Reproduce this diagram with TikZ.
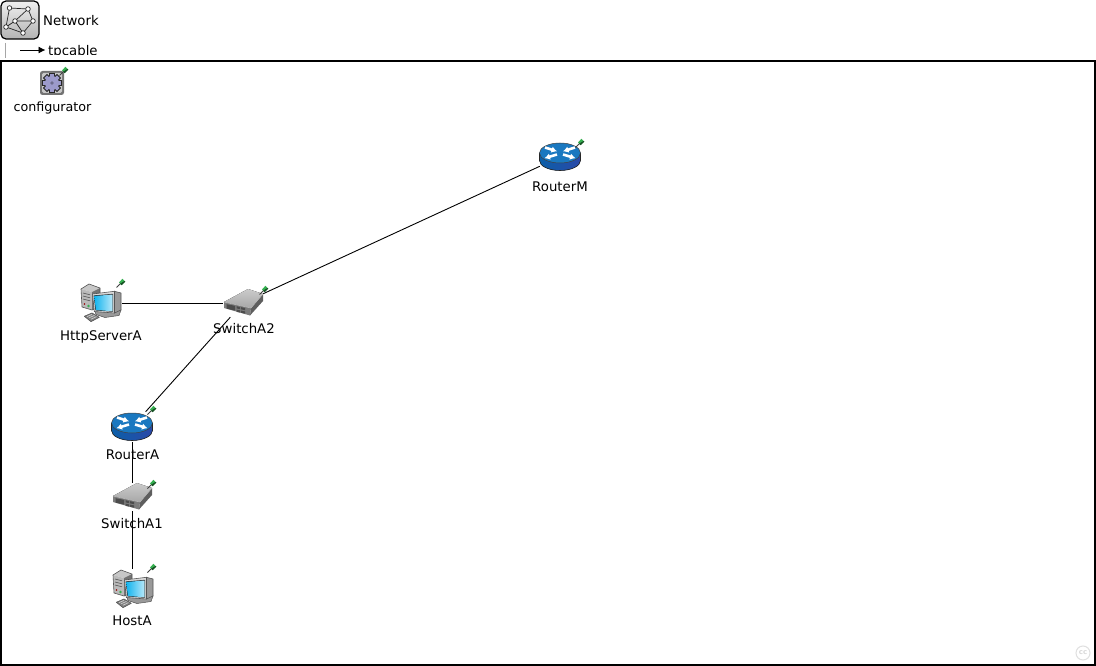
\documentclass[tikz,border=0pt]{standalone}
\usepackage{fontspec}
\setmainfont{DejaVu Sans}
\usetikzlibrary{arrows.meta}
\definecolor{rtop}{HTML}{1A78C0}
\definecolor{rbodyA}{HTML}{0B5FA8}
\definecolor{rbodyB}{HTML}{2A48A8}
\definecolor{swtop}{HTML}{A8A8A8}
\definecolor{swfront}{HTML}{7C7C7C}
\definecolor{swdark}{HTML}{4C4C4C}
\definecolor{pcgrey}{HTML}{BABABA}
\definecolor{pcedge}{HTML}{555555}
\definecolor{screen}{HTML}{12B4EE}
\definecolor{pingreen}{HTML}{35B050}
\definecolor{gearfill}{HTML}{9C9ACB}
\tikzset{
  x=1pt,y=-1pt,
  boxspot/.style={shape=rectangle,inner sep=0pt,minimum width=#1},
  routerspot/.style={boxspot=40pt,minimum height=30pt},
  switchspot/.style={boxspot=40pt,minimum height=28pt},
  pcspot/.style={boxspot=44pt,minimum height=40pt},
  cfgspot/.style={boxspot=26pt,minimum height=26pt},
  lbl/.style={font=\fontsize{13.3pt}{15pt}\selectfont,inner sep=0pt,anchor=base,text=black},
  lnk/.style={draw=black,line width=0.9pt},
  pinicon/.pic={
    \draw[line width=0.9pt,black!75] (-4.5,4.5) -- (0,0);
    \fill[pingreen] (-2,-0.6) -- (1.4,-4.2) -- (4.2,-1.4) -- (0.6,2) -- cycle;
    \fill[pingreen!45!black] (-1,0.8) -- (0.6,2.2) -- (4.3,-1.3) -- (3.5,-2) -- cycle;
  },
  routericon/.pic={
    \fill[left color=rbodyA,right color=rbodyB] (-20.5,-4) -- (-20.5,3.5)
      arc[start angle=180,end angle=360,x radius=20.5pt,y radius=10pt] -- (20.5,-4) -- cycle;
    \fill[rtop] (0,-4) ellipse[x radius=20.5pt,y radius=10pt];
    \draw[black!85,line width=0.6pt] (-20.5,-4) -- (-20.5,3.5) arc[start angle=180,end angle=360,x radius=20.5pt,y radius=10pt] -- (20.5,-4);
    \draw[black!75,line width=0.5pt] (0,-4) ellipse[x radius=20.5pt,y radius=10pt];
    \foreach \sx in {1,-1}{
      \draw[white,line width=2.6pt,-{Latex[length=5.5pt,width=6.5pt]}] (\sx*15,-9.5) -- (\sx*3,-5.7);
      \draw[white,line width=2.6pt,-{Latex[length=5.5pt,width=6.5pt]}] (\sx*3,-2.5) -- (\sx*15.5,1.2);
    }
  },
  switchicon/.pic={
    \fill[top color=swtop!60!white,bottom color=swtop] (-19,-1) -- (5,-14) -- (20,-9) -- (8,5) -- cycle;
    \fill[swfront] (-19,-1) -- (8,5) -- (7,12.5) -- (-19,5) -- cycle;
    \fill[swdark!90!white] (8,5) -- (20,-9) -- (20,-2) -- (7,12.5) -- cycle;
    \draw[white!75!black,line width=0.5pt] (-19,-1) -- (8,5) -- (20,-9);
    \fill[swdark] (-16.5,1.2) -- (-8,2.8) -- (-8,7.6) -- (-16.5,5.6) -- cycle;
    \fill[swdark] (-6.5,3.2) -- (-2.8,4) -- (-2.8,6.2) -- (-6.5,5.4) -- cycle;
    \fill[swdark] (-1.8,4.2) -- (2,5) -- (2,7.2) -- (-1.8,6.4) -- cycle;
    \fill[swdark] (-6.5,6.6) -- (-2.8,7.4) -- (-2.8,9.6) -- (-6.5,8.8) -- cycle;
    \fill[swdark] (-1.8,7.6) -- (2,8.4) -- (2,10.6) -- (-1.8,9.8) -- cycle;
  },
  computericon/.pic={
    % tower
    \fill[black!22] (-19,-14) -- (-11,-19) -- (0,-15) -- (-8,-11) -- cycle;
    \fill[pcgrey] (-19,-14) -- (-8,-11) -- (-8,7) -- (-18,4) -- cycle;
    \fill[black!55] (-8,-11) -- (0,-15) -- (0,4) -- (-8,7) -- cycle;
    \draw[pcedge,line width=0.6pt,line join=round] (-19,-14) -- (-11,-19) -- (0,-15) -- (0,4) -- (-8,7) -- (-18,4) -- cycle;
    \draw[pcedge,line width=0.6pt] (-17,-10) -- (-10,-8.2) (-17,-7) -- (-10,-5.2) (-17,-4) -- (-10,-2.2);
    \fill[pingreen] (-11.5,3) circle[radius=1.3pt];
    \fill[red!60!black] (-15.5,1) circle[radius=0.9pt];
    % stand
    \fill[black!40,draw=pcedge,line width=0.5pt] (-5,8.5) -- (8,9) -- (21,7) -- (19,12.5) -- (5,14.5) -- (-4,11.5) -- cycle;
    % monitor
    \fill[black!40,draw=pcedge,line width=0.6pt] (14.5,-11.7) -- (21,-10) -- (21,7) -- (14.5,10) -- cycle;
    \fill[black!15,draw=pcedge,line width=0.6pt] (-7.5,-9) -- (14.5,-11.7) -- (14.5,10) -- (-5.7,8.5) -- cycle;
    \fill[black!75] (-6.4,-7.6) -- (13.2,-9.2) -- (13.2,8.8) -- (-4.6,7.4) -- cycle;
    \fill[left color=screen,right color=screen!30!white] (-5.8,-7) -- (12.7,-8.5) -- (12.7,8.3) -- (-4.1,7) -- cycle;
    % keyboard
    \fill[black!50,draw=pcedge,line width=0.6pt,line join=round] (-15.7,13.3) -- (-8,10) -- (-0.7,14.3) -- (-9,18.6) -- cycle;
    \draw[black!20,line width=0.7pt] (-13,13.6) -- (-8,11.4) (-11,14.8) -- (-5.5,12.4) (-9,16.2) -- (-3.5,13.6);
  },
  gearicon/.pic={
    \fill[black!55,rounded corners=2.5pt] (-12,-12) rectangle (12,12);
    \fill[black!22,rounded corners=1.5pt] (-10,-10) rectangle (10,10);
    \foreach \a in {0,45,...,315}{
      \fill[black!85,rotate=\a] (-2.9,-10) rectangle (2.9,0);
    }
    \fill[black!85] (0,0) circle[radius=8pt];
    \foreach \a in {0,45,...,315}{
      \fill[gearfill,rotate=\a] (-1.8,-9) rectangle (1.8,0);
    }
    \fill[gearfill] (0,0) circle[radius=7pt];
    \fill[gearfill!70!black] (0,0) circle[radius=1.8pt];
  },
  neticon/.pic={
    \shade[top color=black!6,bottom color=black!30,draw=black,line width=1.2pt,rounded corners=5pt] (1,1) rectangle (39,39);
    \coordinate (n1) at (9.5,8); \coordinate (n2) at (28,9); \coordinate (n3) at (33,21);
    \coordinate (n4) at (15,21); \coordinate (n5) at (6,27); \coordinate (n6) at (23,33);
    \draw[black!85,line width=0.7pt] (n5)--(n1)--(n2)--(n3)--(n6)--(n5)--(n4)--(n2) (n4)--(n3) (n4)--(n6);
    \foreach \p in {n1,n2,n3,n4,n5,n6} \filldraw[fill=white,draw=black!85,line width=0.7pt] (\p) circle[radius=2.3pt];
  }
}
\begin{document}
\begin{tikzpicture}[x=1pt,y=-1pt]
\useasboundingbox (0,0) rectangle (1096,666);
\fill[white] (0,0) rectangle (1096,666);

% header
\pic at (0,0) {neticon};
\node[lbl,anchor=base west] (netname) at (43,25.5) {Network};
\draw[black!35,line width=0.8pt] (5.5,43) -- (5.5,58);
\coordinate (legA) at (20,50);
\begin{scope}
  \clip (0,40) rectangle (200,55);
  \node[lbl,anchor=base west] (legend) at (48,56) {tpcable};
\end{scope}
\coordinate (legB) at (45.5,50);
\draw[-{Latex[length=7pt,width=7pt]},line width=0.9pt] (legA) -- (legB);

% frame
\node[draw=black,line width=2pt,inner sep=0pt,minimum width=1094pt,minimum height=604pt,anchor=north west] (frame) at (0,60) {};

% submodule boxes
\node[cfgspot] (cfg) at (52,83) {};
\node[routerspot] (routerM) at (560,157) {};
\node[pcspot] (http) at (100,303) {};
\node[switchspot] (switchA2) at (243,303) {};
\node[routerspot] (routerA) at (132,427) {};
\node[switchspot] (switchA1) at (132,497) {};
\node[pcspot] (hostA) at (132,589) {};

% connectors
\draw[lnk] (http) -- (switchA2);
\draw[lnk] (switchA2) -- (routerM);
\draw[lnk] (switchA2) -- (routerA);
\draw[lnk] (routerA) -- (switchA1);
\draw[lnk] (switchA1) -- (hostA);

% icons
\pic at (cfg) {gearicon};
\pic at (routerM) {routericon};
\pic at (routerA) {routericon};
\pic at (switchA2) {switchicon};
\pic at (switchA1) {switchicon};
\pic at (http) {computericon};
\pic at (hostA) {computericon};

% status pins
\pic at (64,71) {pinicon};
\pic at (580,143) {pinicon};
\pic at (121,283) {pinicon};
\pic at (264,290) {pinicon};
\pic at (152,410) {pinicon};
\pic at (152,484) {pinicon};
\pic at (152,568) {pinicon};

% labels
\node[lbl,font=\fontsize{12.7pt}{15pt}\selectfont] (cfgL) at (52.5,111.5) {configurator};
\node[lbl] (routerML) at (560,191.5) {RouterM};
\node[lbl] (httpL) at (101,340) {HttpServerA};
\node[lbl] (switchA2L) at (244,333) {SwitchA2};
\node[lbl] (routerAL) at (132.5,459) {RouterA};
\node[lbl] (switchA1L) at (132,528) {SwitchA1};
\node[lbl] (hostAL) at (132,625) {HostA};

% watermark
\node[draw=black!12,line width=1pt,circle,minimum size=14pt,inner sep=0pt,text=black!15,font=\fontsize{7pt}{8pt}\selectfont\bfseries] (cc) at (1083,653) {cc};
\end{tikzpicture}
\end{document}
